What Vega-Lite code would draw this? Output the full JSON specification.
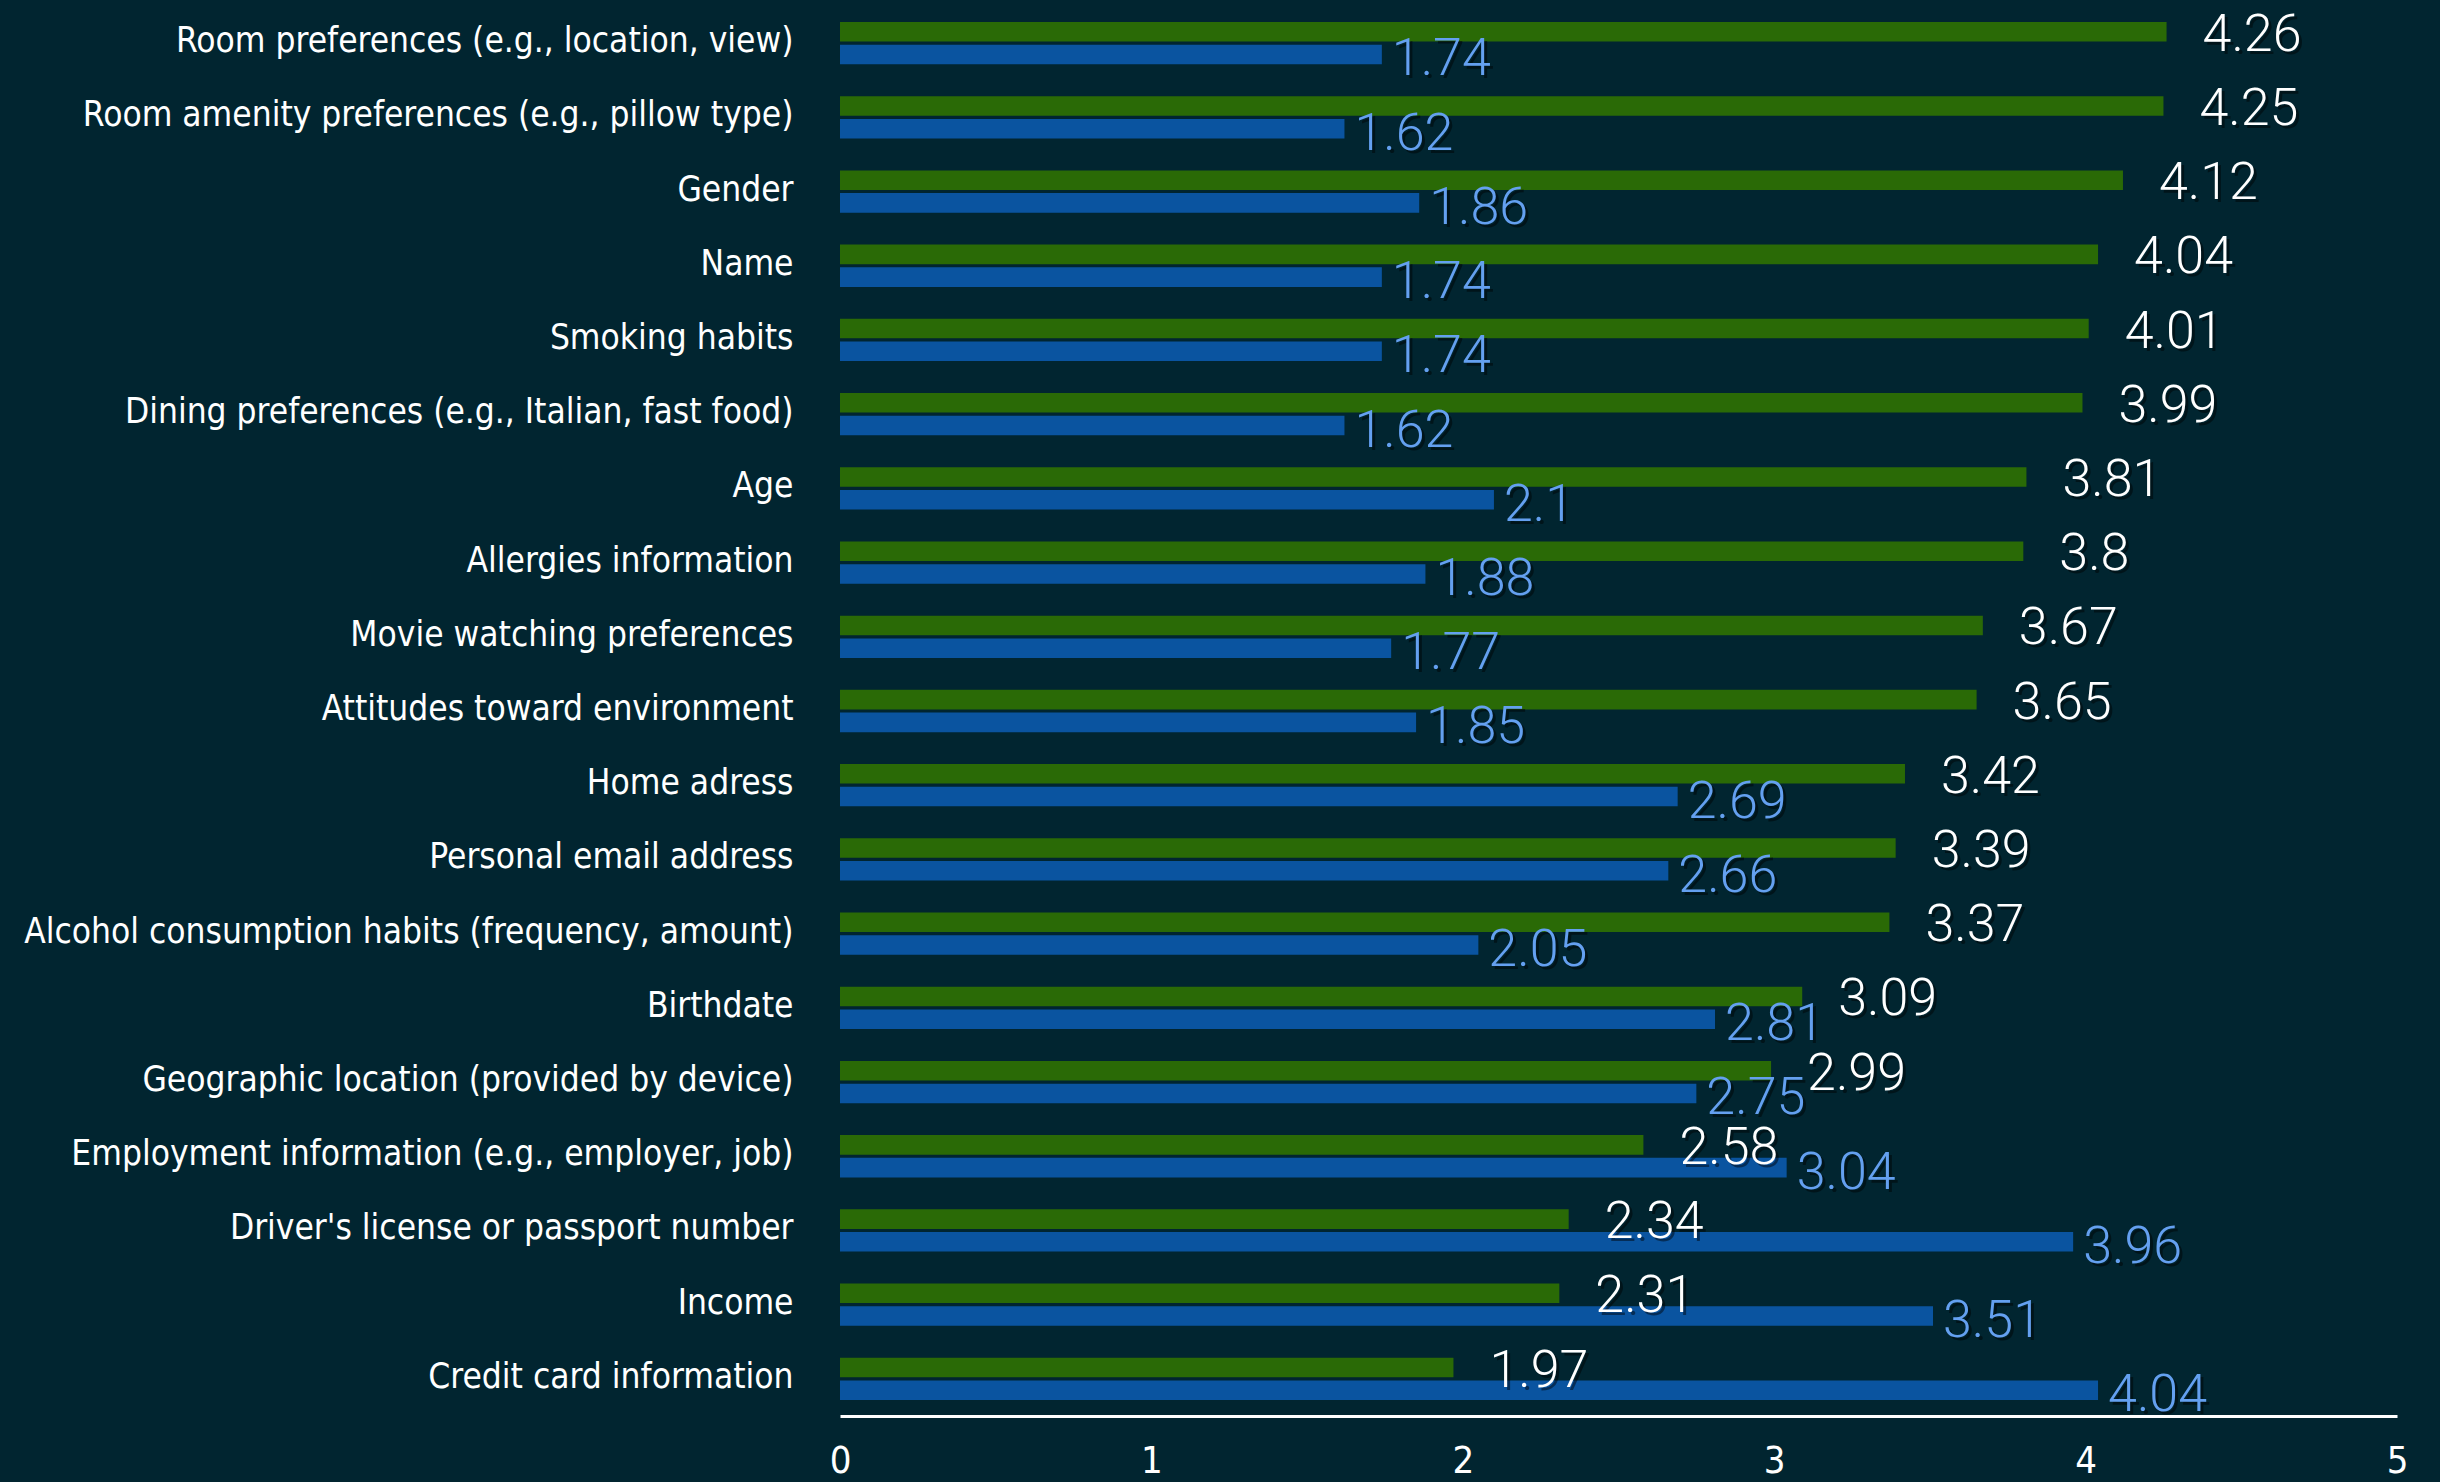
{
  "$schema": "https://vega.github.io/schema/vega-lite/v6.json",
  "autosize": "none",
  "width": 1557,
  "height": 1410,
  "padding": {"left": 840, "top": 6, "right": 43, "bottom": 66},
  "background": "#012530",
  "config": {
    "view": {"stroke": null},
    "font": "DejaVu Sans Condensed, Roboto"
  },
  "data": {
    "values": [
      {"item": "Room preferences (e.g., location, view)", "series": "A", "value": 4.26},
      {"item": "Room preferences (e.g., location, view)", "series": "B", "value": 1.74},
      {"item": "Room amenity preferences (e.g., pillow type)", "series": "A", "value": 4.25},
      {"item": "Room amenity preferences (e.g., pillow type)", "series": "B", "value": 1.62},
      {"item": "Gender", "series": "A", "value": 4.12},
      {"item": "Gender", "series": "B", "value": 1.86},
      {"item": "Name", "series": "A", "value": 4.04},
      {"item": "Name", "series": "B", "value": 1.74},
      {"item": "Smoking habits", "series": "A", "value": 4.01},
      {"item": "Smoking habits", "series": "B", "value": 1.74},
      {"item": "Dining preferences (e.g., Italian, fast food)", "series": "A", "value": 3.99},
      {"item": "Dining preferences (e.g., Italian, fast food)", "series": "B", "value": 1.62},
      {"item": "Age", "series": "A", "value": 3.81},
      {"item": "Age", "series": "B", "value": 2.1},
      {"item": "Allergies information", "series": "A", "value": 3.8},
      {"item": "Allergies information", "series": "B", "value": 1.88},
      {"item": "Movie watching preferences", "series": "A", "value": 3.67},
      {"item": "Movie watching preferences", "series": "B", "value": 1.77},
      {"item": "Attitudes toward environment", "series": "A", "value": 3.65},
      {"item": "Attitudes toward environment", "series": "B", "value": 1.85},
      {"item": "Home adress", "series": "A", "value": 3.42},
      {"item": "Home adress", "series": "B", "value": 2.69},
      {"item": "Personal email address", "series": "A", "value": 3.39},
      {"item": "Personal email address", "series": "B", "value": 2.66},
      {"item": "Alcohol consumption habits (frequency, amount)", "series": "A", "value": 3.37},
      {"item": "Alcohol consumption habits (frequency, amount)", "series": "B", "value": 2.05},
      {"item": "Birthdate", "series": "A", "value": 3.09},
      {"item": "Birthdate", "series": "B", "value": 2.81},
      {"item": "Geographic location (provided by device)", "series": "A", "value": 2.99},
      {"item": "Geographic location (provided by device)", "series": "B", "value": 2.75},
      {"item": "Employment information (e.g., employer, job)", "series": "A", "value": 2.58},
      {"item": "Employment information (e.g., employer, job)", "series": "B", "value": 3.04},
      {"item": "Driver's license or passport number", "series": "A", "value": 2.34},
      {"item": "Driver's license or passport number", "series": "B", "value": 3.96},
      {"item": "Income", "series": "A", "value": 2.31},
      {"item": "Income", "series": "B", "value": 3.51},
      {"item": "Credit card information", "series": "A", "value": 1.97},
      {"item": "Credit card information", "series": "B", "value": 4.04}
    ]
  },
  "encoding": {
    "y": {
      "field": "item",
      "type": "nominal",
      "sort": null,
      "scale": {"paddingInner": 0.43, "paddingOuter": 0.215},
      "axis": {
        "title": null,
        "domain": false,
        "ticks": false,
        "labelColor": "#ffffff",
        "labelFont": "DejaVu Sans Condensed, Roboto",
        "labelFontSize": 35,
        "labelPadding": 47,
        "labelLimit": 900,
        "labelOffset": -2
      }
    },
    "yOffset": {
      "field": "series",
      "type": "nominal",
      "sort": ["A", "B"],
      "scale": {"paddingInner": 0.14}
    },
    "x": {
      "field": "value",
      "type": "quantitative",
      "scale": {"domain": [0, 5], "nice": false},
      "axis": {
        "title": null,
        "grid": false,
        "ticks": false,
        "values": [0, 1, 2, 3, 4, 5],
        "domainColor": "#ffffff",
        "domainWidth": 3,
        "labelColor": "#ffffff",
        "labelFont": "DejaVu Sans Condensed, Roboto",
        "labelFontSize": 38,
        "labelFontWeight": 300,
        "labelPadding": 26,
        "labelFlush": false
      }
    }
  },
  "layer": [
    {
      "mark": {"type": "bar"},
      "encoding": {
        "color": {
          "field": "series",
          "type": "nominal",
          "scale": {"domain": ["A", "B"], "range": ["#2a6a06", "#0a54a0"]},
          "legend": null
        }
      }
    },
    {
      "transform": [{"filter": "datum.series === 'A'"}],
      "mark": {"type": "text", "align": "left", "baseline": "middle", "dx": 39, "dy": 6, "font": "Roboto", "fontWeight": 300, "fontSize": 52, "color": "#000000", "opacity": 0.45},
      "encoding": {"text": {"field": "value", "type": "quantitative", "format": ".3~g"}}
    },
    {
      "transform": [{"filter": "datum.series === 'B'"}],
      "mark": {"type": "text", "align": "left", "baseline": "middle", "dx": 13, "dy": 8, "font": "Roboto", "fontWeight": 300, "fontSize": 52, "color": "#000000", "opacity": 0.45},
      "encoding": {"text": {"field": "value", "type": "quantitative", "format": ".3~g"}}
    },
    {
      "transform": [{"filter": "datum.series === 'A'"}],
      "mark": {"type": "text", "align": "left", "baseline": "middle", "dx": 36, "dy": 3, "font": "Roboto", "fontWeight": 300, "fontSize": 52, "color": "#ffffff"},
      "encoding": {"text": {"field": "value", "type": "quantitative", "format": ".3~g"}}
    },
    {
      "transform": [{"filter": "datum.series === 'B'"}],
      "mark": {"type": "text", "align": "left", "baseline": "middle", "dx": 10, "dy": 5, "font": "Roboto", "fontWeight": 300, "fontSize": 52, "color": "#64a0f0"},
      "encoding": {"text": {"field": "value", "type": "quantitative", "format": ".3~g"}}
    }
  ]
}
